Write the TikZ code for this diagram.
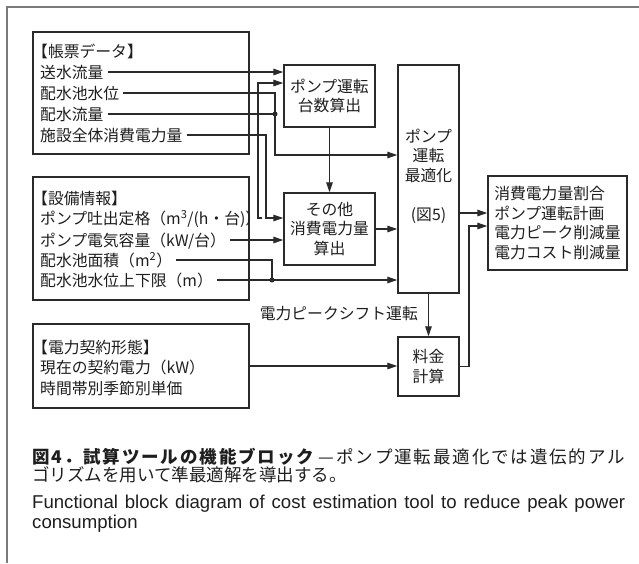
\documentclass[tikz,border=0pt]{standalone}
\usepackage{fontspec}
\setmainfont{Noto Sans CJK JP}
\newfontfamily\enfont{Liberation Sans}
\usetikzlibrary{arrows.meta}
\definecolor{linec}{HTML}{2A2A2A}
\definecolor{txtc}{HTML}{1E1E1E}
\definecolor{framec}{HTML}{7A7A7A}
\newcommand\dfont{\fontsize{15.8}{19.5}\selectfont}
\newcommand\cfont{\fontsize{17.5}{20}\selectfont}
\newcommand\efont{\enfont\fontsize{18.6}{20}\selectfont}
% spread characters evenly: first char, then \hfil before each following char
\def\sprfirst#1{#1\sprnext}
\def\sprnext#1{\ifx#1\relax\else\hfil#1\expandafter\sprnext\fi}
\begin{document}
\begin{tikzpicture}[x=1pt,y=-1pt,
  box/.style={draw=linec,line width=1.4pt,inner sep=0pt,text=txtc,font=\dfont,align=center},
  lbl/.style={anchor=west,inner xsep=4pt,inner ysep=0pt,text=txtc,font=\dfont,text height=13.9pt,text depth=1.9pt},
  conn/.style={draw=linec,line width=1.3pt},
  arr/.style={conn,-{Triangle[length=10pt,width=6.5pt]}},
  jdot/.style={circle,fill=linec,inner sep=0pt,minimum size=5pt},
  captxt/.style={anchor=west,inner sep=0pt,text=txtc}
]
\useasboundingbox (0,0) rectangle (639,563);
\draw[framec,line width=1.5pt] (7,563) -- (7,7) -- (639,7);

% left boxes
\node[box,minimum width=216pt,minimum height=122pt] (A) at (141,93) {};
\node[lbl] (a0) at (28,51) {【帳票データ】};
\node[lbl] (a1) at (36,72) {送水流量};
\node[lbl] (a2) at (36,93) {配水池水位};
\node[lbl] (a3) at (36,114) {配水流量};
\node[lbl] (a4) at (36,135) {施設全体消費電力量};

\node[box,minimum width=216pt,minimum height=123pt] (G) at (141,238.5) {};
\node[lbl] (g0) at (28,198) {【設備情報】};
\node[lbl,inner xsep=1pt] (g1) at (39,218) {ポンプ吐出定格（m\textsuperscript{3}/(h・台)）};
\node[lbl] (g2) at (36,240) {ポンプ電気容量（kW/台）};
\node[lbl] (g3) at (36,260) {配水池面積（m\textsuperscript{2}）};
\node[lbl] (g4) at (36,280) {配水池水位上下限（m）};

\node[box,minimum width=216pt,minimum height=84pt] (H) at (141,366) {};
\node[lbl] (h0) at (28,347) {【電力契約形態】};
\node[lbl] (h1) at (36,367) {現在の契約電力（kW）};
\node[lbl] (h2) at (36,388) {時間帯別季節別単価};

% process boxes
\node[box,minimum width=91pt,minimum height=62pt] (B) at (329.5,96) {ポンプ運転\\台数算出};
\node[box,minimum width=91pt,minimum height=72pt] (C) at (329.5,229) {その他\\消費電力量\\算出};
\node[box,minimum width=61pt,minimum height=228pt] (D) at (428.5,179) {};
\node[text=txtc,font=\dfont,align=center,inner sep=0pt] (Dt) at (428.5,176) {ポンプ\\運転\\最適化\\[19.5pt](図5)};
\node[box,minimum width=139pt,minimum height=94pt,align=left] (E) at (557.5,223) {消費電力量割合\\ポンプ運転計画\\電力ピーク削減量\\電力コスト削減量};
\node[box,minimum width=61pt,minimum height=59pt] (F) at (428.5,366.5) {料金\\計算};
\node[lbl,anchor=east,inner xsep=0pt] (peak) at (418,313) {電力ピークシフト運転};

% junction dots
\node[jdot] (j1) at (275,114) {};
\node[jdot] (j2) at (272,280) {};

% connectors
\draw[arr] (a1.east) -- (B.west |- a1.east);
\draw[arr] (g1.east) -| (258,83) -- (B.west |- 0,83);
\draw[arr] (a2.east) -| (275,155) -- (D.west |- 0,155);
\draw[conn] (a3.east) -- (j1.center);
\draw[arr] (a4.east) -| (266,218) -- (C.west |- 0,218);
\draw[arr] (g2.east) -- (C.west |- g2.east);
\draw[conn] (g3.east) -| (j2.center);
\draw[arr] (g4.east) -- (D.west |- g4.east);
\draw[arr] (B.south) -- (C.north);
\draw[arr] (C.east) -- (D.west |- C.east);
\draw[arr] (D.east |- 0,213) -- (E.west |- 0,213);
\draw[arr] (D.south) -- (F.north);
\draw[arr] (H.east) -- (F.west |- H.east);
\draw[arr] (F.east) -| (469,226) -- (E.west |- 0,226);

% caption
\node[captxt,font=\cfont,text height=15pt,text depth=2.5pt] (cap1) at (32,457) {\makebox[593pt][s]{\bfseries\sprfirst 図4．試算ツールの機能ブロック\relax\hfil\hspace{3pt}\mdseries\sprfirst —ポンプ運転最適化では遺伝的アル\relax}};
\node[captxt,font=\cfont,text height=13pt,text depth=2pt] (cap2) at (32,476) {ゴリズムを用いて準最適解を導出する。};
\node[captxt,anchor=base west,font=\efont,text height=13pt,text depth=3pt] (cap3) at (32,508) {\makebox[593pt][s]{Functional block diagram of cost estimation tool to reduce peak power}};
\node[captxt,anchor=base west,font=\efont,text height=12pt,text depth=3pt] (cap4) at (32,528) {consumption};
\end{tikzpicture}
\end{document}
